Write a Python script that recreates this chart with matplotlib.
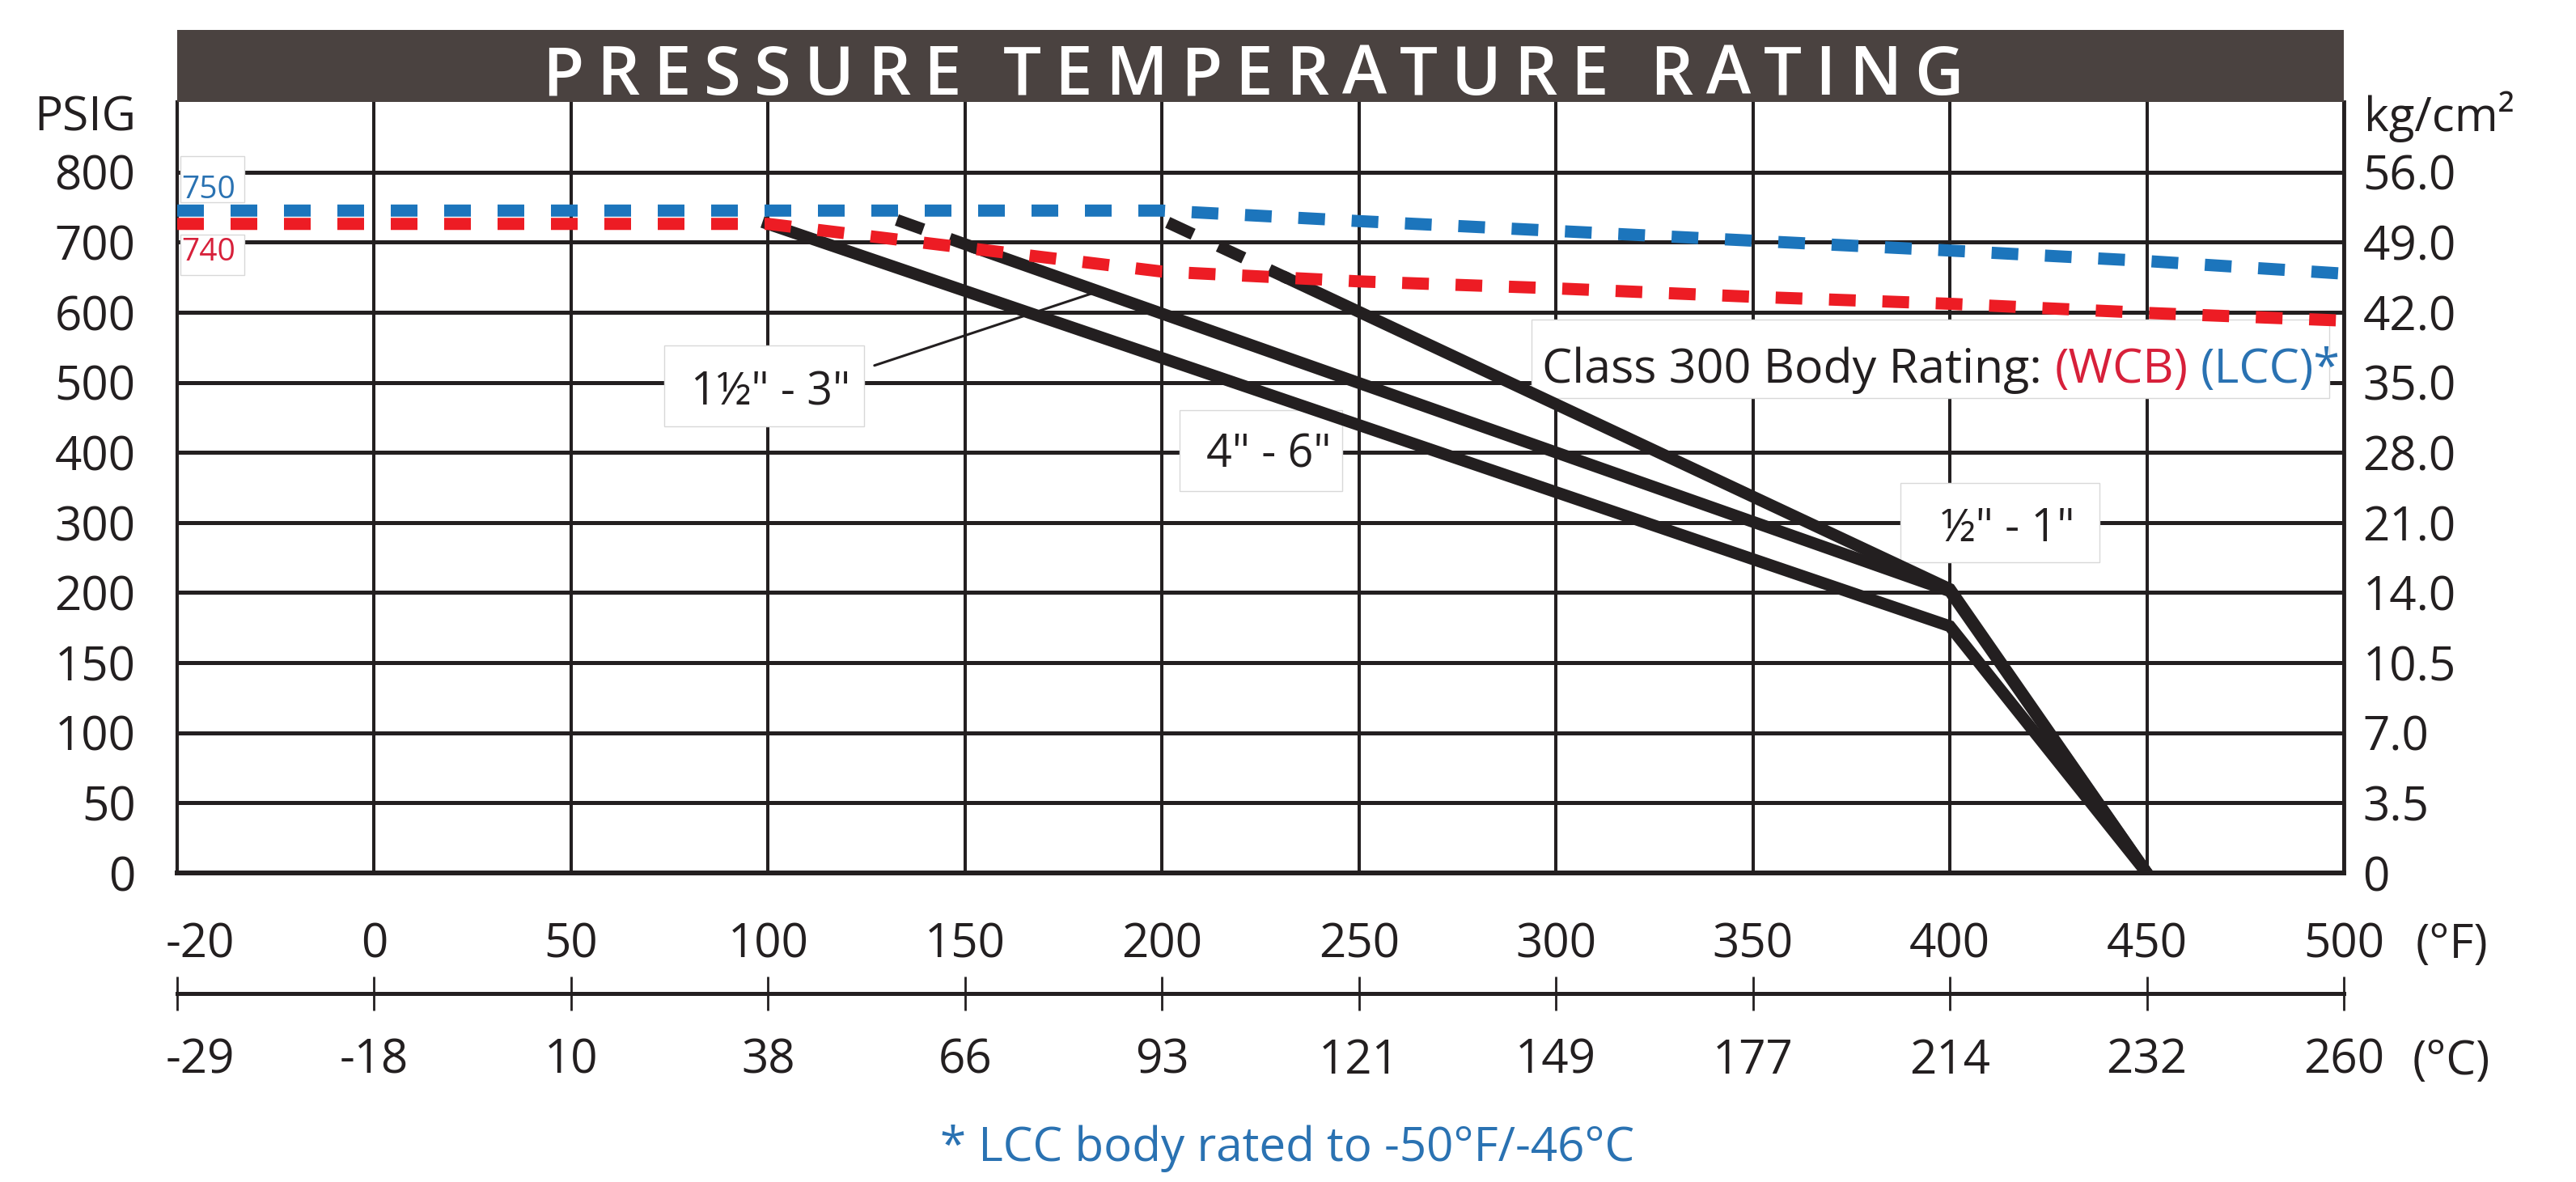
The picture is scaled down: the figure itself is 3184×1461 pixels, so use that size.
import numpy as np
import matplotlib
matplotlib.use('Agg')
import matplotlib.pyplot as plt
from matplotlib.patches import Rectangle
from matplotlib.transforms import ScaledTranslation

plt.rcParams['font.family'] = ['Open Sans', 'DejaVu Sans']

W, H = 3184, 1461

# Axis ticks (the grid is evenly spaced per tick, not per value)
F_TICKS = [-20, 0, 50, 100, 150, 200, 250, 300, 350, 400, 450, 500]
C_LABELS = ['-29', '-18', '10', '38', '66', '93', '121', '149', '177', '214', '232', '260']
PSI_TICKS = [0, 50, 100, 150, 200, 300, 400, 500, 600, 700, 800]
KG_LABELS = ['0', '3.5', '7.0', '10.5', '14.0', '21.0', '28.0', '35.0', '42.0', '49.0', '56.0']
PSI_TOP = 900

# Class 300 body ratings (dotted)
BODY_F = [-20, 0, 50, 100, 150, 200, 250, 300, 350, 400, 450, 500]
LCC_PSI = [745, 745, 745, 745, 745, 745, 730, 716, 702, 688, 673, 655]
WCB_PSI = [726, 726, 726, 726, 692, 658, 644, 634, 622, 612, 599, 588]

# Seat ratings (black)
SEAT_46_F = [100, 400, 450]
SEAT_46_PSI = [726, 176, 0]
SEAT_153_DASH_F = [126, 153]
SEAT_153_DASH_PSI = [745, 691]
SEAT_153_F = [153, 400, 450]
SEAT_153_PSI = [691, 202, 0]
SEAT_051_DASH_F = [195, 232]
SEAT_051_DASH_PSI = [745, 648]
SEAT_051_F = [232, 400, 450]
SEAT_051_PSI = [648, 205, 0]

BLACK = '#231f20'
BLUE = '#1c75bc'
RED = '#ed1c24'
TXT_BLUE = '#2a72b2'
TXT_RED = '#d7203a'
BAR = '#4a4240'

F_IDX = np.arange(len(F_TICKS))
P_GRID = PSI_TICKS + [PSI_TOP]
P_IDX = np.arange(len(P_GRID))

def f_fwd(v):
    return np.interp(v, F_TICKS, F_IDX)

def f_inv(v):
    return np.interp(v, F_IDX, F_TICKS)

def p_fwd(v):
    return np.interp(v, P_GRID, P_IDX)

def p_inv(v):
    return np.interp(v, P_IDX, P_GRID)

# pixel -> figure fraction
def fx(x):
    return x / W

def fy(y):
    return 1 - y / H

fig = plt.figure(figsize=(W / 100, H / 100), dpi=100)
L, R, T, B = 219, 2897, 126, 1079

ax = fig.add_axes([fx(L), fy(B), (R - L) / W, (B - T) / H])
ax.set_xscale('function', functions=(f_fwd, f_inv))
ax.set_yscale('function', functions=(p_fwd, p_inv))
ax.set_xlim(-20, 500)
ax.set_ylim(0, PSI_TOP)
ax.set_xticks(F_TICKS, [str(v) for v in F_TICKS])
ax.set_yticks(PSI_TICKS, [str(v) for v in PSI_TICKS])
ax.set_axisbelow(True)
ax.grid(axis='x', color=BLACK, lw=2.9)
ax.grid(axis='y', color=BLACK, lw=3.6)
ax.tick_params(axis='both', length=0, labelsize=42, colors=BLACK)
ax.tick_params(axis='x', pad=43)
ax.tick_params(axis='y', pad=37)
ax.spines['top'].set_visible(False)
ax.spines['left'].set_linewidth(3)
ax.spines['right'].set_linewidth(3.5)
ax.spines['bottom'].set_linewidth(4.3)
for s in ax.spines.values():
    s.set_color(BLACK)

# right hand kg/cm2 labels
ax2 = ax.twinx()
ax2.set_yscale('function', functions=(p_fwd, p_inv))
ax2.set_ylim(0, PSI_TOP)
ax2.set_yticks(PSI_TICKS, KG_LABELS)
ax2.tick_params(axis='y', length=0, labelsize=42, colors=BLACK, pad=17)
for s in ax2.spines.values():
    s.set_visible(False)

# celsius axis below
axc = fig.add_axes([fx(L), fy(1228), (R - L) / W, 1e-4])
axc.set_xscale('function', functions=(f_fwd, f_inv))
axc.set_xlim(-20, 500)
axc.set_xticks(F_TICKS, C_LABELS)
axc.set_yticks([])
axc.patch.set_visible(False)
for s in ['top', 'left', 'right']:
    axc.spines[s].set_visible(False)
axc.spines['bottom'].set_linewidth(3.6)
axc.spines['bottom'].set_color(BLACK)
axc.tick_params(axis='x', direction='inout', length=30, width=2, pad=24,
                labelsize=42, colors=BLACK)

for a in (ax, axc):
    lab = a.get_xticklabels()[0]
    lab.set_transform(lab.get_transform() + ScaledTranslation(0.28, 0, fig.dpi_scale_trans))

# body rating lines
ax.plot(BODY_F, WCB_PSI, color=RED, lw=10.8, ls=(0, (2.2, 2.2)), zorder=4)
ax.plot(BODY_F, LCC_PSI, color=BLUE, lw=10.8, ls=(0, (2.2, 2.2)), zorder=4)

# seat rating lines
dash = (2.35, (2.35, 2.35))
lw_seat = 10.6
ax.plot(SEAT_46_F, SEAT_46_PSI, color=BLACK, lw=lw_seat, solid_joinstyle='miter', zorder=3)
ax.plot(SEAT_153_F, SEAT_153_PSI, color=BLACK, lw=lw_seat, solid_joinstyle='miter', zorder=3)
ax.plot(SEAT_153_DASH_F, SEAT_153_DASH_PSI, color=BLACK, lw=lw_seat, ls=dash, zorder=3)
ax.plot(SEAT_051_F, SEAT_051_PSI, color=BLACK, lw=lw_seat, solid_joinstyle='miter', zorder=3)
ax.plot(SEAT_051_DASH_F, SEAT_051_DASH_PSI, color=BLACK, lw=lw_seat, ls=dash, zorder=3)

ax.annotate('', xy=(185, 632), xytext=(127, 524),
            arrowprops=dict(arrowstyle='-', color=BLACK, lw=2.2, shrinkA=0, shrinkB=0),
            zorder=3)

def box(x0, y0, x1, y1):
    ax.add_patch(Rectangle((fx(x0), fy(y1)), (x1 - x0) / W, (y1 - y0) / H,
                           transform=fig.transFigure, facecolor='white',
                           edgecolor='#d8d8d8', lw=1.0, zorder=2.5))

def label(x, y, s, size, color=BLACK, ha='center', **kw):
    return ax.text(fx(x), fy(y), s, transform=fig.transFigure, fontsize=size,
                   color=color, ha=ha, va='baseline', zorder=5, **kw)

box(223, 193, 302, 250)
label(258, 245, '750', 28, TXT_BLUE)
box(223, 290, 302, 340)
label(258, 322, '740', 28, TXT_RED)

box(821, 427, 1068, 527)
label(953, 500, '1½" - 3"', 40)
box(1458, 507, 1659, 607)
label(1568, 577, '4" - 6"', 40)
box(2349, 597, 2595, 695)
label(2482, 669, '½" - 1"', 40)

renderer = fig.canvas.get_renderer()

def text_width(s, size, weight='normal'):
    t = fig.text(0, 0, s, fontsize=size, fontweight=weight)
    w = t.get_window_extent(renderer).width
    t.remove()
    return w

# class 300 rating box, three colours
box(1893, 395, 2879, 492)
pieces = [('Class 300 Body Rating:', BLACK), ('(WCB)', TXT_RED), ('(LCC)*', TXT_BLUE)]
base = 40
nat = sum(text_width(p, base) for p, _ in pieces) + 2 * (text_width('a a', base) - text_width('aa', base))
size = base * 984 / nat
sp = text_width('a a', size) - text_width('aa', size)
x = 1906
for p, c in pieces:
    label(x, 473, p, size, c, ha='left')
    x += text_width(p, size) + sp

# axis captions
label(168, 162, 'PSIG', 42, ha='right')
label(2922, 162, 'kg/cm²', 42, ha='left')
label(3030, 1184, '(°F)', 42)
label(3030, 1328, '(°C)', 42)
label(1591, 1435, '* LCC body rated to -50°F/-46°C', 42, TXT_BLUE)

# title bar
tb = fig.add_axes([fx(L), fy(T), (R - L) / W, (T - 37) / H])
tb.set_facecolor(BAR)
tb.set_xticks([])
tb.set_yticks([])
for s in tb.spines.values():
    s.set_visible(False)

title_words = 'PRESSURE TEMPERATURE RATING'.split(' ')
tsize = 60
widths = [[text_width(ch, tsize, 'semibold') for ch in w] for w in title_words]
ink = sum(sum(w) for w in widths)
gaps = sum(len(w) - 1 for w in title_words)
track = (2427 - 670 - ink) / (gaps + 3.2 * (len(title_words) - 1))
x = 670
for word, ws in zip(title_words, widths):
    for ch, cw in zip(word, ws):
        fig.text(fx(x), fy(117), ch, fontsize=tsize, fontweight='semibold',
                 color='white', ha='left', va='baseline')
        x += cw + track
    x += 2.2 * track

fig.savefig('out.png', dpi=100)
